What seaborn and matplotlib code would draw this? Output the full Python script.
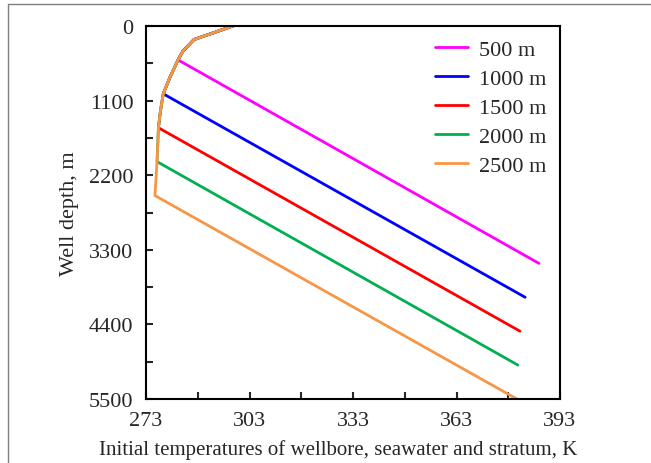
import pandas as pd
import matplotlib
matplotlib.use("Agg")
import matplotlib.pyplot as plt
from matplotlib.patches import Rectangle
import seaborn as sns

# seawater temperature profile (K) vs depth (m)
sea_depth = [0, 200, 370, 500, 750, 1000, 1250, 1500, 2000, 2500]
sea_temp = [298.2, 286.9, 283.7, 282.3, 280.0, 278.0, 277.2, 276.6, 276.2, 275.6]

# water depths of each case and temperature at the bottom of the well
water_depths = [500, 1000, 1500, 2000, 2500]
bottom_depths = [3500, 4000, 4500, 5000, 5500]
bottom_temps = [386.9, 382.9, 381.4, 380.8, 380.5]
labels = ["500 m", "1000 m", "1500 m", "2000 m", "2500 m"]
colors = ["#FF00FF", "#0000FF", "#FF0000", "#00B050", "#F79646"]

x_major = [273, 303, 333, 363, 393]
x_minor = [288, 318, 348, 378]
y_major = [0, 1100, 2200, 3300, 4400, 5500]
y_minor = [550, 1650, 2750, 3850, 4950]

rows = []
for wd, bd, bt, lab in zip(water_depths, bottom_depths, bottom_temps, labels):
    for d, t in zip(sea_depth, sea_temp):
        if d <= wd:
            rows.append((t, d, lab))
    rows.append((bt, bd, lab))
df = pd.DataFrame(rows, columns=["Temperature", "Depth", "Case"])

sns.set_style("ticks")
plt.rcParams["font.family"] = ["Liberation Serif", "DejaVu Serif"]

fig = plt.figure(figsize=(6.51, 4.64), dpi=100)
ax = fig.add_axes([146 / 651, 1 - 400 / 464, 414 / 651, 373 / 464])

sns.lineplot(data=df, x="Temperature", y="Depth", hue="Case", hue_order=labels,
             palette=colors, sort=False, estimator=None, linewidth=2, ax=ax)

ax.set_xlim(273, 393)
ax.set_ylim(5500, 0)
ax.set_xticks(x_major)
ax.set_xticks(x_minor, minor=True)
ax.set_yticks(y_major)
ax.set_yticks(y_minor, minor=True)
ax.tick_params(which="both", direction="in", width=1.5, length=5, labelsize=16, pad=9)
for s in ax.spines.values():
    s.set_linewidth(1.5)
    s.set_color("black")

ax.set_xlabel("Initial temperatures of wellbore, seawater and stratum, K", fontsize=15)
ax.xaxis.set_label_coords((338 - 146) / 414, -0.108)
ax.set_ylabel("Well depth, m", fontsize=16, labelpad=7)

ax.legend(loc="upper left", frameon=False, fontsize=16, handlelength=1.5,
          handletextpad=0.5, labelspacing=0.38, borderpad=0, borderaxespad=0,
          bbox_to_anchor=((435 - 146) / 414, 0.964))

fig.patches.append(Rectangle((8 / 651, -0.1), 1.2, 1.1 - 5 / 464,
                             transform=fig.transFigure, fill=False,
                             edgecolor="#7f7f7f", linewidth=1))

fig.savefig("out.png", dpi=100)
